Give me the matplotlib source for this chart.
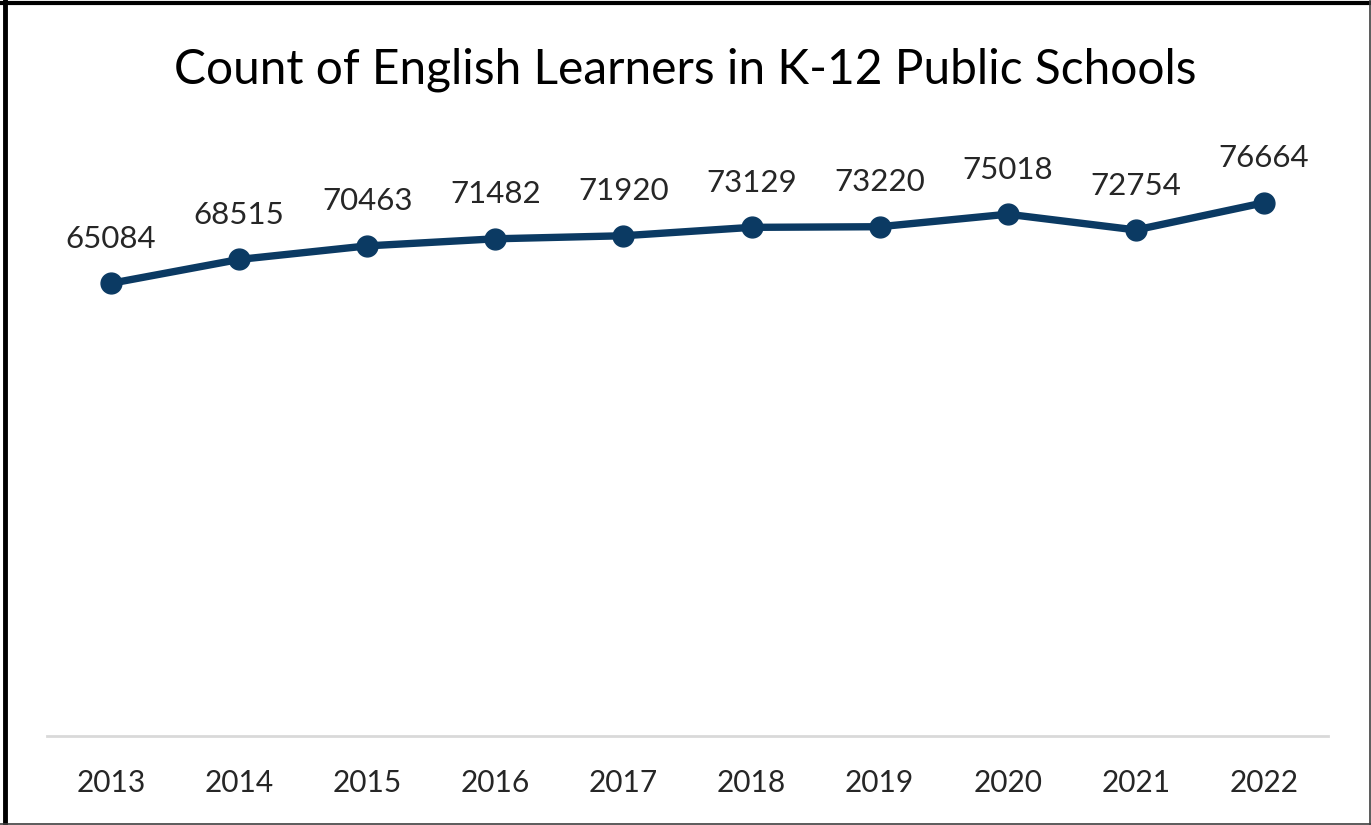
import matplotlib
matplotlib.use("Agg")
import matplotlib.pyplot as plt
from matplotlib.lines import Line2D

years = ['2013', '2014', '2015', '2016', '2017', '2018', '2019', '2020', '2021', '2022']
counts = [65084, 68515, 70463, 71482, 71920, 73129, 73220, 75018, 72754, 76664]

plt.rcParams['font.family'] = ['Lato', 'DejaVu Sans']
navy = '#0b3a63'

fig = plt.figure(figsize=(13.71, 8.25), dpi=100)
ax = fig.add_axes([47 / 1371, 89 / 825, (1328 - 47) / 1371, 626 / 825])

x = list(range(len(years)))
ax.plot(x, counts, color=navy, lw=5.3, marker='o', ms=15, solid_capstyle='round', zorder=3)
for xi, v in zip(x, counts):
    ax.annotate(str(v), (xi, v), xytext=(0, 32), textcoords='offset points',
                ha='center', va='center', fontsize=22.5, color='#262626')

ax.set_xlim(-0.5, len(years) - 0.5)
ax.set_ylim(0, 90000)
ax.set_xticks(x)
ax.set_xticklabels(years, fontsize=21.5, color='#262626')
ax.tick_params(axis='x', length=0, pad=24)
ax.set_yticks([])
for s in ['left', 'right', 'top']:
    ax.spines[s].set_visible(False)
ax.spines['bottom'].set_color('#d9d9d9')
ax.spines['bottom'].set_linewidth(2)

fig.text(0.5, 1 - 70 / 825, 'Count of English Learners in K-12 Public Schools',
         ha='center', va='center', fontsize=34.5, color='#000000')

# frame round the figure: heavy left/top, thin right/bottom
fig.add_artist(Line2D([4.5 / 1371, 4.5 / 1371], [0, 1], color='black', lw=3.5, transform=fig.transFigure))
fig.add_artist(Line2D([0, 1], [1 - 3 / 825, 1 - 3 / 825], color='black', lw=3, transform=fig.transFigure))
fig.add_artist(Line2D([1 - 1.5 / 1371, 1 - 1.5 / 1371], [0, 1], color='#404040', lw=1.2, transform=fig.transFigure))
fig.add_artist(Line2D([0, 1], [1.5 / 825, 1.5 / 825], color='#404040', lw=1.2, transform=fig.transFigure))

fig.savefig('out.png', dpi=100)
